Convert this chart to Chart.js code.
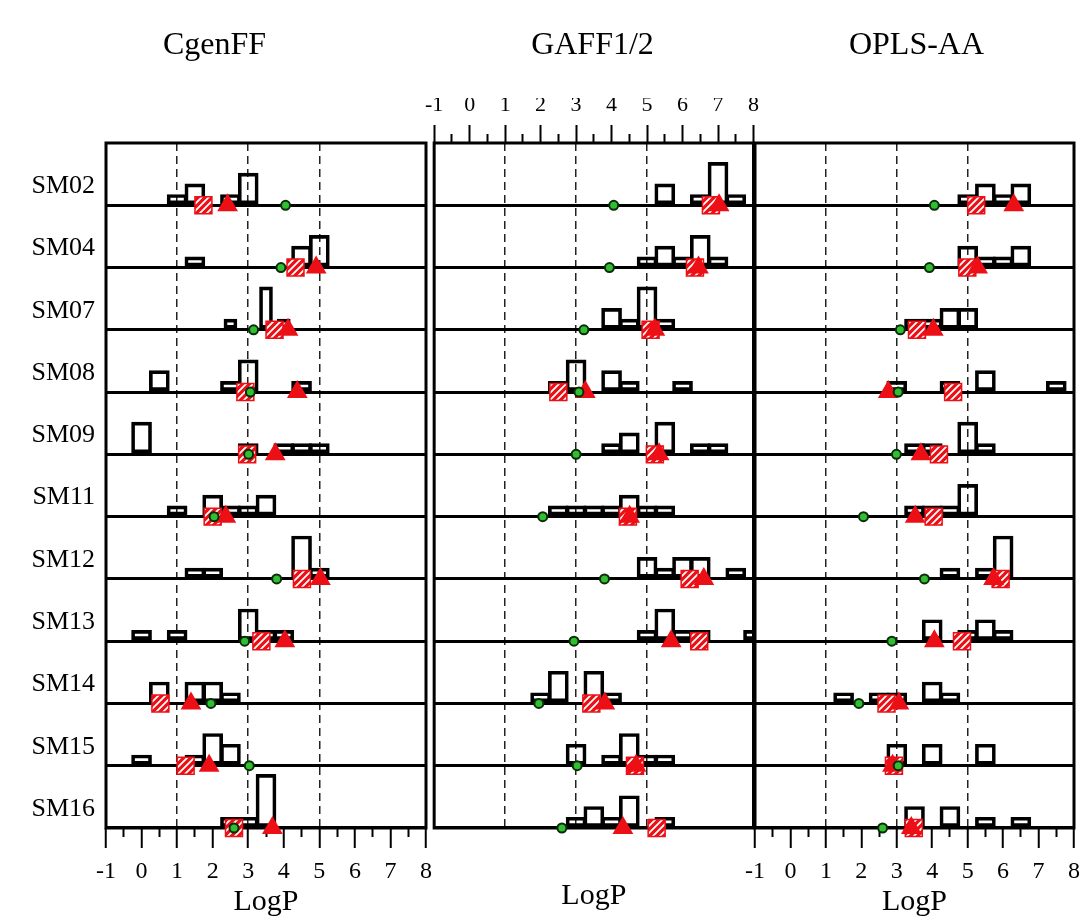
<!DOCTYPE html>
<html>
<head>
<meta charset="utf-8">
<script src="https://cdn.jsdelivr.net/npm/chart.js@4.4.0/dist/chart.umd.min.js"></script>
<style>
  body { margin: 0; background: #fff; }
  #wrap { position: relative; width: 1089px; height: 921px; overflow: hidden; }
  .panel { position: absolute; top: 0; height: 921px; }
</style>
</head>
<body>
<div id="wrap">
  <div class="panel" style="left:0;width:441px"><canvas id="c0"></canvas></div>
  <div class="panel" style="left:418px;width:349px"><canvas id="c1"></canvas></div>
  <div class="panel" style="left:735px;width:354px"><canvas id="c2"></canvas></div>
</div>
<script>
const rowNames = ["SM02", "SM04", "SM07", "SM08", "SM09", "SM11", "SM12", "SM13", "SM14", "SM15", "SM16"];
const panelTitles = ["CgenFF", "GAFF1/2", "OPLS-AA"];
const xTicks = [-1, 0, 1, 2, 3, 4, 5, 6, 7, 8];
const dashedAt = [1, 3, 5];

// histogram bins per compound: [bin centre, count]
const cgenffBins = [
  [[1.0, 1], [1.5, 2], [2.5, 1], [3.0, 3]],
  [[1.5, 1], [4.5, 2], [5.0, 3]],
  [],
  [[0.5, 2], [2.5, 1], [3.0, 3], [4.5, 1]],
  [[0.0, 3], [3.0, 1], [4.0, 1], [4.5, 1], [5.0, 1]],
  [[1.0, 1], [2.0, 2], [2.5, 1], [3.0, 1], [3.5, 2]],
  [[1.5, 1], [2.0, 1], [4.5, 4], [5.0, 1]],
  [[0.0, 1], [1.0, 1], [3.0, 3], [3.5, 1], [4.0, 1]],
  [[0.5, 2], [1.5, 2], [2.0, 2], [2.5, 1]],
  [[0.0, 1], [1.5, 1], [2.0, 3], [2.5, 2]],
  [[2.5, 1], [3.0, 1], [3.5, 5]]
];
const cgenffNarrowBins = [[], [], [[2.5, 1], [3.5, 4], [4.0, 1]], [], [], [], [], [], [], [], []];
const cgenffDots = [4.05, 3.92, 3.15, 3.06, 3.01, 2.04, 3.80, 2.90, 1.95, 3.03, 2.60];
const cgenffSquares = [1.74, 4.33, 3.74, 2.92, 2.97, 2.00, 4.51, 3.37, 0.53, 1.24, 2.60];
const cgenffTriangles = [2.42, 4.91, 4.12, 4.38, 3.76, 2.37, 5.03, 4.03, 1.39, 1.90, 3.68];

const gaffBins = [
  [[5.5, 2], [6.5, 1], [7.0, 4], [7.5, 1]],
  [[5.0, 1], [5.5, 2], [6.0, 1], [6.5, 3], [7.0, 1]],
  [[4.0, 2], [4.5, 1], [5.0, 4], [5.5, 1]],
  [[2.5, 1], [3.0, 3], [4.0, 2], [4.5, 1], [6.0, 1]],
  [[4.0, 1], [4.5, 2], [5.5, 3], [6.5, 1], [7.0, 1]],
  [[2.5, 1], [3.0, 1], [3.5, 1], [4.0, 1], [4.5, 2], [5.0, 1], [5.5, 1]],
  [[5.0, 2], [5.5, 1], [6.0, 2], [6.5, 2], [7.5, 1]],
  [[5.0, 1], [5.5, 3], [6.0, 1], [6.5, 1], [8.0, 1]],
  [[2.0, 1], [2.5, 3], [3.5, 3], [4.0, 1]],
  [[3.0, 2], [4.0, 1], [4.5, 3], [5.0, 1], [5.5, 1]],
  [[3.0, 1], [3.5, 2], [4.0, 1], [4.5, 3], [5.5, 1]]
];
const gaffDots = [4.06, 3.94, 3.22, 3.08, 3.00, 2.06, 3.80, 2.94, 1.95, 3.03, 2.60];
const gaffSquares = [6.80, 6.35, 5.10, 2.50, 5.22, 4.46, 6.20, 6.47, 3.43, 4.66, 5.27];
const gaffTriangles = [7.03, 6.45, 5.22, 3.26, 5.34, 4.51, 6.60, 5.68, 3.81, 4.69, 4.32];

const oplsBins = [
  [[5.0, 1], [5.5, 2], [6.0, 1], [6.5, 2]],
  [[5.0, 2], [5.5, 1], [6.0, 1], [6.5, 2]],
  [[3.5, 1], [4.0, 1], [4.5, 2], [5.0, 2]],
  [[3.0, 1], [4.5, 1], [5.5, 2], [7.5, 1]],
  [[3.5, 1], [4.0, 1], [5.0, 3], [5.5, 1]],
  [[3.5, 1], [4.0, 1], [4.5, 1], [5.0, 3]],
  [[4.5, 1], [5.5, 1], [6.0, 4]],
  [[4.0, 2], [5.0, 1], [5.5, 2], [6.0, 1]],
  [[1.5, 1], [2.5, 1], [3.0, 1], [4.0, 2], [4.5, 1]],
  [[3.0, 2], [4.0, 2], [5.5, 2]],
  [[3.5, 2], [4.5, 2], [5.5, 1], [6.5, 1]]
];
const oplsDots = [4.06, 3.92, 3.10, 3.04, 2.99, 2.06, 3.78, 2.86, 1.93, 3.04, 2.60];
const oplsSquares = [5.24, 4.99, 3.57, 4.59, 4.19, 4.04, 5.93, 4.84, 2.71, 2.92, 3.48];
const oplsTriangles = [6.30, 5.28, 4.03, 2.76, 3.68, 3.52, 5.73, 4.06, 3.06, 2.88, 3.41];

const SERIF = "'Liberation Serif', 'DejaVu Serif', serif";
const RED = "#ec1016";
const ROW_MAX = 5.8;
const minorTicks = xTicks.slice(0, -1).map(v => v + 0.5);

function hatchPattern() {
  const c = document.createElement("canvas");
  c.width = 7; c.height = 7;
  const g = c.getContext("2d");
  g.fillStyle = RED;
  g.fillRect(0, 0, 7, 7);
  g.strokeStyle = "#fff";
  g.lineWidth = 1.8;
  g.beginPath();
  g.moveTo(-1, 8); g.lineTo(8, -1);
  g.moveTo(-4, 4); g.lineTo(4, -4);
  g.moveTo(3, 11); g.lineTo(11, 3);
  g.stroke();
  return g.createPattern(c, "repeat");
}
const hatch = hatchPattern();

const framePlugin = {
  id: "frame",
  beforeDatasetsDraw(chart) {
    const a = chart.chartArea;
    const ctx = chart.ctx;
    ctx.save();
    ctx.strokeStyle = "#000";
    ctx.lineWidth = 3;
    ctx.strokeRect(a.left, a.top, a.right - a.left, a.bottom - a.top);
    ctx.restore();
  }
};

function rowAxis(i, showName) {
  return {
    type: "linear", position: "left", stack: "rows", stackWeight: 1,
    min: 0, max: ROW_MAX,
    afterBuildTicks: s => { s.ticks = [{ value: 0 }]; },
    afterFit: s => { s.width = showName ? 106 : 0; },
    grid: { color: "#000", lineWidth: 3, drawTicks: false },
    border: { display: false },
    ticks: {
      display: showName, color: "#000", padding: 11, labelOffset: -19,
      font: { family: SERIF, size: 26 },
      callback: () => rowNames[i]
    }
  };
}

function barSet(bins, i, thickness) {
  return {
    type: "bar", order: 3, grouped: false,
    data: bins.map(b => ({ x: b[0], y: b[1] })),
    xAxisID: "x", yAxisID: "r" + i,
    barThickness: thickness, borderWidth: 3, borderSkipped: false,
    borderColor: "#000", backgroundColor: "rgba(0,0,0,0)"
  };
}

function buildPanel(p) {
  const datasets = [];
  rowNames.forEach((name, i) => {
    datasets.push({
      type: "scatter", order: 0, clip: false,
      data: [{ x: p.dots[i], y: 0 }], xAxisID: "x", yAxisID: "r" + i,
      pointStyle: "circle", pointRadius: 4.5, pointBorderWidth: 2,
      pointBackgroundColor: "#2fbf2f", pointBorderColor: "#0c2a0c"
    });
    datasets.push({
      type: "scatter", order: 1, clip: false,
      data: [{ x: p.triangles[i], y: 0 }], xAxisID: "x", yAxisID: "r" + i,
      pointStyle: "triangle", pointRadius: 12, pointBorderWidth: 0,
      pointBackgroundColor: RED, pointBorderColor: RED
    });
    datasets.push({
      type: "scatter", order: 2, clip: false,
      data: [{ x: p.squares[i], y: 0 }], xAxisID: "x", yAxisID: "r" + i,
      pointStyle: "rect", pointRadius: 12, pointBorderWidth: 1.5,
      pointBackgroundColor: hatch, pointBorderColor: RED
    });
    datasets.push(barSet(p.bins[i], i, 20));
    if (p.narrow && p.narrow[i].length) datasets.push(barSet(p.narrow[i], i, 13));
  });

  const scales = {
    xm: {
      type: "linear", position: "bottom", min: -1, max: 8, offset: false, weight: 0,
      display: p.bottomTicks,
      afterBuildTicks: s => { s.ticks = minorTicks.map(v => ({ value: v })); },
      afterFit: s => { s.height = 0; },
      grid: { offset: false, drawOnChartArea: false, tickLength: 9, tickColor: "#000", tickWidth: 2 },
      border: { display: false },
      ticks: { display: false }
    },
    x: {
      type: "linear", position: "bottom", min: -1, max: 8, offset: false, weight: 1,
      afterBuildTicks: s => { s.ticks = xTicks.map(v => ({ value: v })); },
      afterFit: s => { s.height = 93; },
      grid: {
        offset: false, lineWidth: 1.5, drawTicks: p.bottomTicks,
        color: c => (c.tick && dashedAt.includes(c.tick.value)) ? "#222" : "rgba(0,0,0,0)",
        tickColor: "#000", tickWidth: 2, tickLength: 20, tickBorderDash: []
      },
      border: { display: false, dash: [8, 5] },
      ticks: {
        display: p.bottomTicks, color: "#000", padding: 9, maxRotation: 0, autoSkip: false,
        font: { family: SERIF, size: 24 }
      },
      title: {
        display: true, text: "LogP", color: "#000",
        font: { family: SERIF, size: 30 },
        padding: { top: 0, bottom: p.bottomTicks ? 1 : 7 }
      }
    },
    xtm: {
      type: "linear", position: "top", min: -1, max: 8, offset: false, weight: 0,
      display: p.topTicks,
      afterBuildTicks: s => { s.ticks = minorTicks.map(v => ({ value: v })); },
      afterFit: s => { s.height = 0; },
      grid: { offset: false, drawOnChartArea: false, tickLength: 9, tickColor: "#000", tickWidth: 2 },
      border: { display: false },
      ticks: { display: false }
    },
    xt: {
      type: "linear", position: "top", min: -1, max: 8, offset: false, weight: 1,
      afterBuildTicks: s => { s.ticks = xTicks.map(v => ({ value: v })); },
      afterFit: s => { s.height = 45; },
      grid: {
        offset: false, drawOnChartArea: false, drawTicks: p.topTicks,
        tickColor: "#000", tickWidth: 2, tickLength: 18
      },
      border: { display: false },
      ticks: {
        display: p.topTicks, color: "#000", padding: 7, maxRotation: 0, autoSkip: false,
        font: { family: SERIF, size: 22 }
      }
    }
  };
  for (let i = rowNames.length - 1; i >= 0; i--) {
    scales["r" + i] = rowAxis(i, p.rowLabels);
  }

  return new Chart(document.getElementById(p.canvas), {
    type: "scatter",
    data: { datasets },
    options: {
      responsive: true,
      maintainAspectRatio: false,
      animation: false,
      events: [],
      layout: { padding: p.padding },
      scales,
      plugins: {
        legend: { display: false },
        tooltip: { enabled: false },
        title: {
          display: true, text: p.title, color: "#000",
          font: { family: SERIF, size: 32, weight: "normal" },
          padding: { top: 26, bottom: 33.6 }
        }
      }
    },
    plugins: [framePlugin]
  });
}

buildPanel({
  canvas: "c0", title: panelTitles[0], bins: cgenffBins, narrow: cgenffNarrowBins,
  dots: cgenffDots, squares: cgenffSquares, triangles: cgenffTriangles,
  rowLabels: true, bottomTicks: true, topTicks: false,
  padding: { left: 0, right: 12, top: 0, bottom: 0 }
});
buildPanel({
  canvas: "c1", title: panelTitles[1], bins: gaffBins, narrow: null,
  dots: gaffDots, squares: gaffSquares, triangles: gaffTriangles,
  rowLabels: false, bottomTicks: false, topTicks: true,
  padding: { left: 12, right: 12, top: 0, bottom: 0 }
});
buildPanel({
  canvas: "c2", title: panelTitles[2], bins: oplsBins, narrow: null,
  dots: oplsDots, squares: oplsSquares, triangles: oplsTriangles,
  rowLabels: false, bottomTicks: true, topTicks: false,
  padding: { left: 20, right: 11, top: 0, bottom: 0 }
});
</script>
</body>
</html>
